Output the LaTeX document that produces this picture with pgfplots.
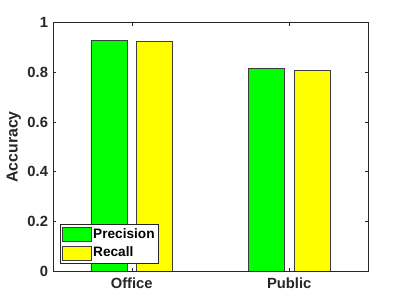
\documentclass[border=0pt]{standalone}
\usepackage{fontspec}
\setmainfont{Liberation Sans}
\usepackage{pgfplots}
\pgfplotsset{compat=1.18}
\pgfplotsset{/pgfplots/ybar legend/.style={/pgfplots/legend image code/.code={\draw[##1] (0bp,-7bp) rectangle (29bp,7bp);}}}
\definecolor{axgray}{RGB}{38,38,38}
\definecolor{edgegray}{RGB}{60,60,60}
\definecolor{mgreen}{RGB}{0,255,0}
\definecolor{myellow}{RGB}{255,255,0}
\begin{document}
\begin{tikzpicture}
\path[use as bounding box] (0,0) rectangle (407bp,305bp);
\begin{axis}[
  at={(53bp,34bp)}, anchor=south west,
  scale only axis, width=315bp, height=248.3bp,
  xmin=0.5, xmax=2.5, ymin=0, ymax=1,
  ybar,
  xtick={1,2}, xticklabels={Office,Public},
  ytick={0,0.2,0.4,0.6,0.8,1},
  yticklabels={0,0.2,0.4,0.6,0.8,1},
  tick align=inside,
  major tick length=3bp,
  axis line style={axgray, line width=0.5bp},
  tick style={axgray, line width=0.5bp},
  ticklabel style={font=\fontsize{14.8}{16}\selectfont\bfseries, text=axgray},
  xticklabel style={yshift=-3bp},
  yticklabel style={xshift=-1.5bp},
  ylabel={Accuracy},
  ylabel style={at={(axis description cs:-0.124,0.5)}, anchor=center,
    font=\fontsize{15.9}{17}\selectfont\bfseries, text=axgray},
  legend style={at={(axis description cs:0.022,0.031)}, anchor=south west,
    draw=axgray, line width=0.5bp, font=\fontsize{13.7}{15}\selectfont\bfseries, text=black,
    inner xsep=2bp, inner ysep=3bp, row sep=4bp,
    nodes={inner sep=1.5bp}},
  legend cell align=left,
]
\addplot[fill=mgreen, draw=edgegray, line width=0.5bp, bar width=0.23, bar shift=-0.145]
  coordinates {(1,0.9275) (2,0.8147)};
\addplot[fill=myellow, draw=edgegray, line width=0.5bp, bar width=0.23, bar shift=0.145]
  coordinates {(1,0.925) (2,0.808)};
\legend{Precision,Recall}
\end{axis}
\end{tikzpicture}
\end{document}
